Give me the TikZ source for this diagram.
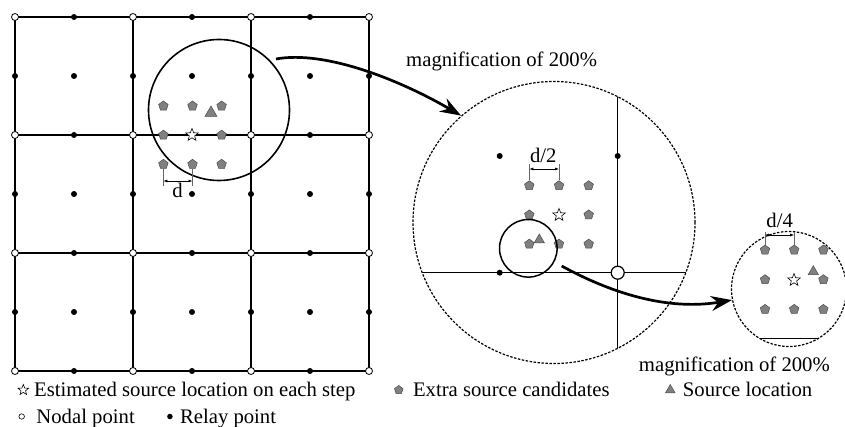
\documentclass[tikz,border=0pt]{standalone}
\usepackage{fontspec}
\setmainfont{Liberation Serif}
\usetikzlibrary{positioning,shapes.geometric,arrows.meta}

\begin{document}
\begin{tikzpicture}[x=1pt, y=-1pt, font=\fontsize{20.7}{24}\selectfont,
    gridline/.style={line width=1.8pt},
    nodal/.style={circle, draw, fill=white, line width=0.8pt, inner sep=0pt, minimum size=7pt},
    relay/.style={circle, fill=black, inner sep=0pt, minimum size=6pt},
    cand/.style={regular polygon, regular polygon sides=5, draw=black!70, fill=black!50, line width=0.5pt, inner sep=0pt, minimum size=10pt},
    est/.style={star, star points=5, star point ratio=2.3, draw, fill=white, line width=0.6pt, inner sep=0pt, minimum size=13pt},
    src/.style={regular polygon, regular polygon sides=3, draw=black!70, fill=black!50, line width=0.5pt, inner sep=0pt, minimum size=14pt},
    lensring/.style={circle, draw, line width=1.6pt, inner sep=0pt},
    magring/.style={circle, draw, dash pattern=on 2.5pt off 1.5pt, line width=1.2pt, inner sep=0pt},
    dimline/.style={draw=black!60, line width=0.6pt},
    dimarrow/.style={{Latex[length=4pt,width=3pt]}-{Latex[length=4pt,width=3pt]}, line width=0.6pt},
    zoomarrow/.style={-{Stealth[length=21pt,width=15pt,inset=7pt]}, line width=2.7pt},
    txt/.style={inner sep=0pt},
    keytext/.style={inner sep=0pt, text height=15pt, text depth=2pt}]

    \useasboundingbox (0,0) rectangle (845,427);

    \foreach \k in {0,...,3} {
        \draw[gridline] (15+118*\k,17) -- (15+118*\k,371);
        \draw[gridline] (15,17+118*\k) -- (369,17+118*\k);
    }
    \foreach \i in {1,3,5}
        \foreach \j in {0,...,6}
            \node[relay] (r\i\j) at (15+59*\i,17+59*\j) {};
    \foreach \i in {0,2,4,6}
        \foreach \j in {1,3,5}
            \node[relay] (r\i\j) at (15+59*\i,17+59*\j) {};
    \foreach \i in {0,...,3}
        \foreach \j in {0,...,3}
            \node[nodal] (n\i\j) at (15+118*\i,17+118*\j) {};

    \node[lensring, minimum size=141pt] (lensA) at (219,110) {};
    \foreach \i/\j in {0/0,1/0,2/0,0/1,2/1,0/2,1/2,2/2}
        \node[cand] (ca\i\j) at (163.4+29.1*\i,106+29.15*\j) {};
    \node[est] (estA) at (192,135) {};
    \node[src] (srcA) at (211,113) {};
    \draw[dimline] (ca02) -- (ca02 |- 0,186);
    \draw[dimline] (ca12) -- (ca12 |- 0,186);
    \draw[dimarrow] (ca02 |- 0,181) -- (ca12 |- 0,181);
    \node[txt, anchor=base] (dA) at (177.5,198) {d};

    \node[magring, minimum size=282pt] (viewA) at (554,222.5) {};
    \begin{scope}
        \clip (554,222.5) circle (141pt);
        \draw[line width=1.4pt] (400,272.7) -- (700,272.7);
        \draw[line width=1.4pt] (617.7,70) -- (617.7,380);
    \end{scope}
    \node[relay] (rb1) at (499.7,156) {};
    \node[relay] (rb2) at (617.7,156) {};
    \node[relay] (rb3) at (499.7,272.7) {};
    \node[nodal, minimum size=13pt, line width=1.2pt] (nb) at (617.7,272.7) {};
    \foreach \i/\j in {0/0,1/0,2/0,0/1,2/1,0/2,1/2,2/2}
        \node[cand] (cb\i\j) at (529.3+29.7*\i,185.7+29.2*\j) {};
    \node[est] (estB) at (559,215) {};
    \node[src, minimum size=12pt] (srcB) at (539.3,240) {};
    \node[lensring, minimum size=57.6pt, line width=1.5pt] (lensB) at (528.3,248.3) {};
    \draw[dimline] (cb00) -- (cb00 |- 0,164);
    \draw[dimline] (cb10) -- (cb10 |- 0,164);
    \draw[dimarrow] (cb00 |- 0,169) -- (cb10 |- 0,169);
    \node[txt, anchor=base] (dB) at (543.3,162.7) {d/2};

    \node[magring, minimum size=115pt] (viewB) at (789,289) {};
    \begin{scope}
        \clip (789,289) circle (57.5pt);
        \draw[line width=1.4pt] (720,338.3) -- (860,338.3);
    \end{scope}
    \node[src, minimum size=12pt] (srcC) at (813.3,271.7) {};
    \foreach \i/\j in {0/0,1/0,2/0,0/1,2/1,0/2,1/2,2/2}
        \node[cand] (cc\i\j) at (765+29.2*\i,250+29.7*\j) {};
    \node[est] (estC) at (794,280) {};
    \draw[dimline] (cc00) -- (cc00 |- 0,232);
    \draw[dimline] (cc10) -- (cc10 |- 0,232);
    \draw[dimarrow] (cc00 |- 0,235) -- (cc10 |- 0,235);
    \node[txt, anchor=base] (dC) at (779.7,227.5) {d/4};

    \coordinate (fromA) at (276,59);
    \draw[zoomarrow] (fromA) .. controls (325,50) and (400,80) .. (viewA.131);
    \coordinate (fromB) at (561.7,266);
    \draw[zoomarrow] (fromB) .. controls (600,287) and (660,312) .. (viewB.191);
    \node[txt, anchor=base west] (magA) at (406,67) {magnification of 200\%};
    \node[txt, anchor=base east] (magB) at (830,371.7) {magnification of 200\%};

    \node[est, minimum size=11pt] (keyEst) at (23.3,390) {};
    \node[keytext, right=7pt of keyEst] (keyEstT) {Estimated source location on each step};
    \node[cand, minimum size=9pt, right=39pt of keyEstT] (keyCand) {};
    \node[keytext, right=10pt of keyCand] (keyCandT) {Extra source candidates};
    \node[src, minimum size=11pt, right=57pt of keyCandT] (keySrc) {};
    \node[keytext, right=9pt of keySrc] (keySrcT) {Source location};
    \node[nodal, minimum size=5.5pt, line width=0.6pt] (keyNod) at (21.7,416.5) {};
    \node[keytext, right=11.5pt of keyNod] (keyNodT) {Nodal point};
    \node[relay, minimum size=5.5pt, right=32pt of keyNodT] (keyRel) {};
    \node[keytext, right=7pt of keyRel] (keyRelT) {Relay point};
\end{tikzpicture}
\end{document}
